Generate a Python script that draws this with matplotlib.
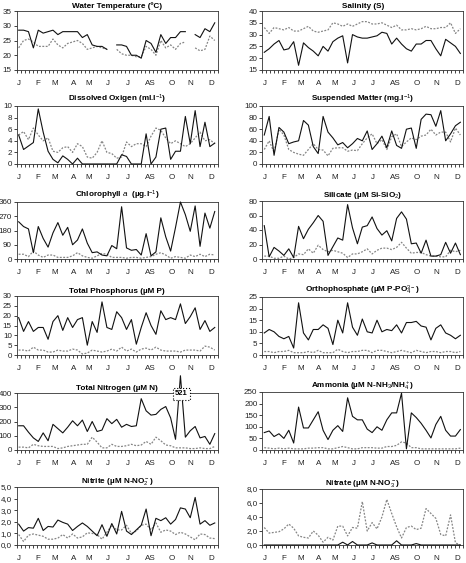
import numpy as np
import matplotlib
matplotlib.use("Agg")
import matplotlib.pyplot as plt
from matplotlib.ticker import FuncFormatter

plt.rcParams['font.family'] = ['Liberation Sans', 'DejaVu Sans']
plt.rcParams['mathtext.fontset'] = 'custom'
plt.rcParams['mathtext.rm'] = 'Liberation Sans'
plt.rcParams['mathtext.it'] = 'Liberation Sans:italic'
plt.rcParams['mathtext.bf'] = 'Liberation Sans:bold'

nan = np.nan
months = ['J', 'F', 'M', 'A', 'M', 'J', 'J', 'AS', 'O', 'N', 'D']
month_pos = [0.1, 4.0, 7.4, 11.2, 14.3, 18.2, 22.2, 26.8, 31.2, 35.1, 39.3]

temp_solid = [28.5, 28.5, 28, 22.5, 28.5, 27.5, 28, 28.5, 27, 28, 28, 28, 28, 26, 27, 23.5, 23, 23, 22, nan,
              23.5, 23.5, 23, 20, 20, 19, 25, 24, 21, 27, 24, 26, 26, 28, 28, nan, 27, 26, 29, 28, 31]
temp_dot = [22.5, 25, 25.5, 24.5, 23, 23, 23, 25.5, 23.5, 22.5, 24, 24.5, 25, 24, 22, 22.5, 23, 22.5, 22, nan,
            22, 20.5, 20, 20, 19.5, 19.5, 23, 22, 20, 25, 22.5, 23.5, 22, 24, 24.5, nan, 22.5, 21.5, 22, 26.5, 25]

sal_solid = [22.5, 24, 26, 27.5, 23.5, 24, 27, 17, 26.5, 24.5, 23, 21, 25, 23, 27, 28.5, 29.5, 18, 30, 29, 28.5,
             28.5, 29, 29.5, 31, 30.5, 26, 28.5, 26, 24, 23, 26, 26, 27.5, 27.5, 24, 21, 28, 26.5, 25, 22]
sal_dot = [33, 30.5, 33, 32.5, 32, 33, 31.5, 31.5, 32.5, 33.5, 31.5, 31, 31.5, 32, 35, 34.5, 33.5, 34.5, 33.5, 34.5,
           35.5, 35.5, 34.5, 34.5, 35, 34, 33, 34, 32, 32, 32.5, 32, 32.5, 33.5, 32.5, 32.5, 33, 33, 35, 30.5, 32.5]

do_solid = [5, 2.5, 3.1, 3.7, 9.5, 5.5, 2.2, 0.8, 0.2, 1.4, 0.8, 0, 1.0, 0, 0, 0, 0, 0, 0, 0, 0,
            1.6, 1.3, 0, 0, 0, 5.2, 0, 1.2, 6.0, 6.2, 0.8, 2.2, 2.2, 8.2, 3.5, 9.2, 3.0, 7.2, 3.0, 3.6]
do_dot = [5, 5.6, 4.2, 6.2, 5, 4, 4.5, 2.2, 2, 2.8, 3, 2, 3.5, 3, 1.2, 1, 2, 4, 2, 1.8, 1,
          1.2, 3.8, 3, 3.5, 3.5, 3, 4.8, 6.2, 5.8, 4.5, 3.5, 4, 3.5, 3, 3.5, 4.5, 5.5, 4, 4.2, 3.5]

sm_solid = [50, 82, 15, 63, 55, 35, 38, 40, 75, 67, 30, 18, 82, 55, 45, 33, 37, 28, 35, 44, 40,
            57, 25, 35, 48, 28, 57, 32, 27, 60, 62, 27, 77, 86, 85, 65, 92, 40, 52, 66, 72]
sm_dot = [25, 40, 20, 60, 50, 25, 20, 17, 15, 25, 35, 25, 24, 14, 27, 28, 28, 22, 24, 23, 35,
          45, 52, 35, 42, 25, 47, 52, 30, 38, 45, 42, 48, 50, 60, 50, 55, 55, 38, 62, 50]

chl_solid = [235, 205, 190, 40, 205, 130, 75, 165, 230, 150, 200, 90, 120, 190, 100, 40, 45, 25, 20, 85, 65,
             330, 70, 55, 60, 25, 160, 20, 45, 260, 140, 50, 200, 360, 280, 175, 335, 80, 290, 195, 300]
chl_dot = [30, 30, 15, 50, 25, 10, 25, 25, 10, 10, 10, 20, 40, 20, 10, 5, 20, 35, 30, 10, 10,
           10, 5, 10, 10, 5, 10, 15, 30, 40, 25, 5, 15, 10, 5, 25, 15, 30, 15, 30, 25]

si_solid = [46, 3, 16, 11, 5, 14, 2, 45, 28, 41, 50, 60, 52, 5, 17, 29, 26, 75, 43, 21, 44,
            46, 58, 42, 33, 39, 25, 56, 65, 55, 21, 22, 8, 26, 4, 4, 6, 23, 8, 22, 6]
si_dot = [4, 4, 1, 1, 4, 0, 2, 7, 6, 14, 8, 19, 13, 10, 12, 10, 8, 2, 7, 7, 10,
          14, 7, 12, 15, 15, 13, 16, 23, 15, 8, 9, 9, 6, 4, 4, 3, 3, 12, 10, 12]

tp_solid = [19, 12, 17, 12, 14, 14, 8, 17, 20, 12.5, 19, 14, 18, 19, 5, 17, 11.5, 27, 14, 13, 22,
            19, 13, 18, 5.5, 14, 21.5, 15, 10.5, 22.5, 18, 19, 18, 26, 16, 19.5, 24, 13, 17.5, 12, 14]
tp_dot = [2.5, 2.5, 2, 4, 2.5, 2.5, 1.5, 1.5, 2.5, 2, 2, 3, 2.5, 0.5, 1, 2.5, 2, 1.5, 2, 3, 2,
          4, 2, 3, 1.5, 3, 3.5, 2.5, 4, 2.5, 2, 2, 2, 1.5, 2.5, 2.5, 2.5, 2, 4.5, 4, 2.5]

op_solid = [9.5, 11, 10, 8, 7, 8, 3, 22.5, 9.5, 6.5, 11, 11, 13, 11.5, 4.5, 15, 9.5, 22.5, 12, 8.5, 15.5,
            10, 9.5, 15, 10, 11, 10.5, 13, 9.5, 14, 14, 14.5, 12.5, 12, 6.5, 11.5, 13, 9.5, 8.5, 7, 8.5]
op_dot = [1.5, 1.5, 1, 1.5, 1.5, 2, 1, 1, 1, 1.5, 1, 2, 1, 1, 1, 2.5, 1.5, 1, 1.5, 1.5, 2,
          2, 1, 2, 2, 1.5, 1, 1.5, 2, 1.5, 1, 2, 1.5, 1, 1.5, 1.5, 1, 1.5, 1.5, 1, 1.5]

tn_solid = [170, 170, 125, 85, 60, 120, 65, 180, 150, 120, 160, 205, 170, 210, 130, 200, 130, 140, 220, 185, 215,
            160, 180, 165, 170, 360, 275, 245, 250, 285, 305, 225, 75, 521, 90, 135, 165, 85, 95, 40, 115]
tn_dot = [20, 20, 15, 40, 30, 25, 25, 25, 10, 15, 25, 30, 35, 40, 40, 90, 55, 15, 15, 40, 25,
          25, 30, 40, 30, 35, 60, 40, 90, 65, 35, 30, 15, 15, 15, 10, 10, 15, 10, 10, 25]

nh_solid = [75, 82, 58, 70, 50, 85, 30, 185, 95, 95, 130, 165, 85, 45, 85, 105, 80, 225, 145, 130, 130,
            90, 75, 100, 85, 130, 160, 160, 245, 5, 160, 140, 115, 85, 52, 110, 145, 85, 60, 60, 88]
nh_dot = [10, 8, 5, 8, 5, 8, 5, 5, 5, 8, 8, 10, 10, 5, 5, 10, 15, 10, 5, 5, 10,
          10, 10, 8, 8, 15, 15, 20, 35, 30, 10, 10, 5, 5, 5, 5, 5, 5, 5, 5, 8]

no2_solid = [1.8, 1.2, 1.5, 1.45, 2.3, 1.25, 1.6, 1.55, 2.15, 1.95, 1.8, 1.25, 1.6, 1.9, 1.6, 1.2, 0.8, 1.75, 0.75,
             1.85, 0.95, 2.9, 1.2, 0.9, 1.3, 1.7, 3.1, 0.8, 2.3, 2.1, 2.35, 1.8, 2.2, 3.2, 3.1, 2.35, 4.1, 1.8,
             2.1, 1.7, 1.9]
no2_dot = [0.9, 0.3, 0.85, 0.95, 0.85, 0.75, 0.5, 0.5, 0.6, 0.9, 0.6, 0.95, 0.6, 0.7, 1.05, 1.0, 0.9, 0.5, 1.1,
           1.7, 1.3, 1.3, 1.7, 1.0, 1.2, 1.7, 1.8, 1.3, 1.9, 1.1, 1.3, 1.2, 0.9, 1.1, 0.95, 0.7, 0.45, 0.95,
           0.9, 0.6, 0.55]

no3_solid = [0, 0, 0, 0, 0, 0, 0, 0, 0, 0, 0, 0, 0, 0, 0, 0, 0.4, 0, 0.5, 0, 0,
             0, 0.3, 0, 0, 0, 0, 0.6, 0, 0, 0, 0.2, 0, 0, 0, 0, 0, 0, 0, 0, 0]
no3_dot = [2.5, 1.7, 1.8, 1.9, 2.3, 3.0, 2.4, 1.3, 1.1, 1.0, 2.0, 1.4, 0.4, 1.1, 0.7, 2.7, 2.7, 1.3, 2.5, 2.4, 6.2,
           2.0, 3.2, 2.3, 4.0, 6.5, 4.5, 2.6, 1.0, 2.5, 2.7, 2.2, 2.4, 5.2, 4.5, 3.8, 1.5, 1.3, 4.3, 0.3, 0]

panels = [
    # (title, solid, dotted, ymin, ymax, step, comma)
    ('Water Temperature (ºC)', temp_solid, temp_dot, 15, 35, 5, False),
    ('Salinity (S)', sal_solid, sal_dot, 15, 40, 5, False),
    ('Dissolved Oxigen (ml.l$^{-1}$)', do_solid, do_dot, 0, 10, 2, False),
    ('Suspended Matter (mg.l$^{-1}$)', sm_solid, sm_dot, 0, 100, 20, False),
    ('Chlorophyll $a$  (µg.l$^{-1}$)', chl_solid, chl_dot, 0, 360, 90, False),
    ('Silicate (µM Si-SiO$_2$)', si_solid, si_dot, 0, 80, 20, False),
    ('Total Phosphorus (µM P)', tp_solid, tp_dot, 0, 30, 5, False),
    ('Orthophosphate (µM P-PO$_4^{3-}$)', op_solid, op_dot, 0, 25, 5, False),
    ('Total Nitrogen (µM N)', tn_solid, tn_dot, 0, 400, 100, False),
    ('Ammonia (µM N-NH$_3$/NH$_4^+$)', nh_solid, nh_dot, 0, 250, 50, False),
    ('Nitrite (µM N-NO$_2^-$)', no2_solid, no2_dot, 0, 5, 1, True),
    ('Nitrate (µM N-NO$_3^-$)', no3_solid, no3_dot, 0, 8, 2, True),
]

W, H = 466, 563
fig = plt.figure(figsize=(W / 100, H / 100), dpi=100)
rows_left = [(11, 70), (106, 164), (202, 259), (296, 355), (393, 450), (487, 545)]
rows_right = [(11, 70), (106, 164), (201, 259), (297, 355), (392, 450), (489, 545)]
lefts = [16.7, 262.3]
aw = 201

comma_fmt = FuncFormatter(lambda v, p: ('%.1f' % v).replace('.', ','))

for k, (title, solid, dot, y0, y1, st, comma) in enumerate(panels):
    r, c = divmod(k, 2)
    top, bot = (rows_left if c == 0 else rows_right)[r]
    ax = fig.add_axes([lefts[c] / W, 1 - bot / H, aw / W, (bot - top) / H])
    x = np.arange(len(solid))
    ax.plot(x, dot, color='#858585', lw=0.9, ls=(0, (1.5, 1.2)), zorder=2)
    ax.plot(x, solid, color='#111111', lw=0.8, zorder=3, clip_on=False)
    ax.set_xlim(-0.4, 40.6)
    ax.set_ylim(y0, y1)
    ax.set_yticks(np.arange(y0, y1 + st / 2, st))
    if comma:
        ax.yaxis.set_major_formatter(comma_fmt)
    ax.set_xticks(month_pos)
    ax.set_xticklabels(months)
    ax.set_xticks(np.arange(-0.4, 40.7, 0.82), minor=True)
    ax.tick_params(axis='x', which='major', length=0, pad=7, labelsize=5.8, colors='#222222')
    ax.tick_params(axis='x', which='minor', length=2.2, width=0.6, direction='out', color='#222222')
    ax.tick_params(axis='y', which='major', length=2, width=0.6, pad=1.5, labelsize=5.8, colors='#222222')
    for sp in ax.spines.values():
        sp.set_linewidth(0.6)
        sp.set_color('#333333')
    ax.set_title(title, fontsize=5.9, fontweight='bold', pad=2.5)
    if k == 8:
        ax.text(33.2, 395, '521', ha='center', va='center', fontsize=5.5, fontweight='bold',
                bbox=dict(boxstyle='square,pad=0.3', fc='white', ec='black', ls=':', lw=0.8),
                clip_on=False, zorder=6)

fig.savefig('out.png', dpi=100, facecolor='white')
